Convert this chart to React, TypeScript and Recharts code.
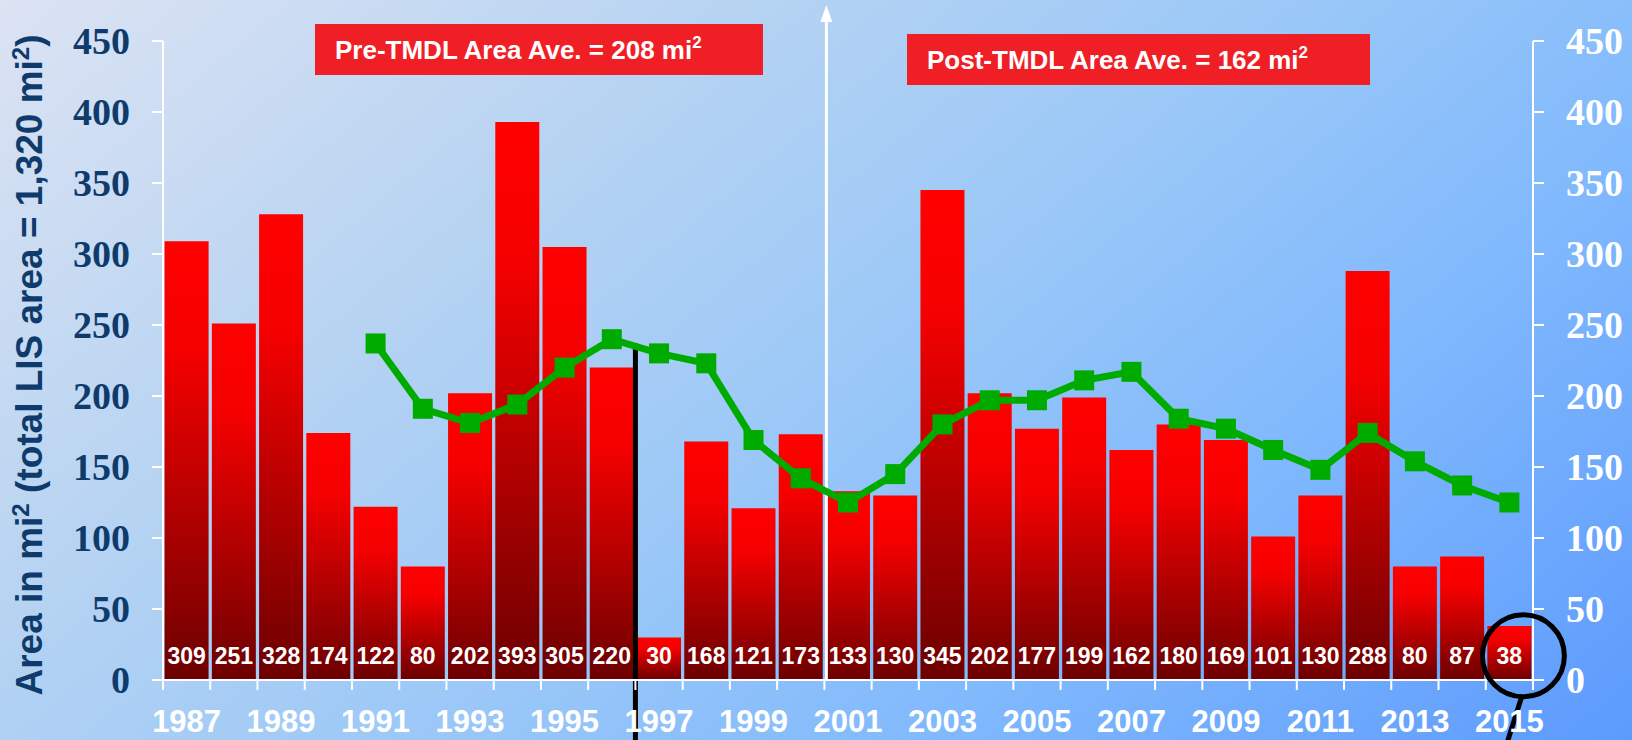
import React from 'react';
import {
  ComposedChart,
  Bar,
  Line,
  XAxis,
  YAxis,
  LabelList,
  ReferenceLine,
  ReferenceDot,
} from 'recharts';

// Hypoxic area of Long Island Sound by year (mi²)
const YEARS = [
  '1987', '1988', '1989', '1990', '1991', '1992', '1993', '1994', '1995', '1996',
  '1997', '1998', '1999', '2000', '2001', '2002', '2003', '2004', '2005', '2006',
  '2007', '2008', '2009', '2010', '2011', '2012', '2013', '2014', '2015',
];
const AREA = [
  309, 251, 328, 174, 122, 80, 202, 393, 305, 220,
  30, 168, 121, 173, 133, 130, 345, 202, 177, 199,
  162, 180, 169, 101, 130, 288, 80, 87, 38,
];
// Five-year running average (starts in 1991)
const RUNNING_AVG: (number | null)[] = [
  null, null, null, null, 237, 191, 181, 194, 220, 240,
  230, 223, 169, 142, 125, 145, 180, 197, 197, 211,
  217, 184, 177, 162, 148, 174, 154, 137, 125,
];
const Y_TICKS = [0, 50, 100, 150, 200, 250, 300, 350, 400, 450];
const Y_MAX = 450;
const PRE_AVG = 208;
const POST_AVG = 162;
const TMDL_START_YEAR = '1997';
const MARKER_YEAR = '2001';
const HIGHLIGHT_YEAR = '2015';

const data = YEARS.map((year, i) => ({ year, area: AREA[i], avg: RUNNING_AVG[i] }));

const W = 1632;
const H = 740;
const LEFT_W = 163;
const RIGHT_W = 99;
const TOP = 41;
const X_AXIS_H = 60;
const PLOT_W = W - LEFT_W - RIGHT_W;
const BAND = PLOT_W / YEARS.length;

const SANS = '"Liberation Sans", Arial, Helvetica, sans-serif';
const SERIF = '"Liberation Serif", "Times New Roman", Times, serif';
const NAVY = '#0e3b6c';
const GREEN = '#00ab00';
const BOX_RED = '#f01e25';

const YearTick = (props: any) => {
  const { x, y, payload, index } = props;
  const axisY = y - 10;
  const left = x - BAND / 2;
  const isLast = index === YEARS.length - 1;
  return (
    <g>
      <line x1={left} y1={axisY} x2={left} y2={axisY + 10} stroke="#fff" strokeWidth={2} />
      {isLast && (
        <line x1={x + BAND / 2} y1={axisY} x2={x + BAND / 2} y2={axisY + 10} stroke="#fff" strokeWidth={2} />
      )}
      {index % 2 === 0 && (
        <text
          x={x}
          y={axisY + 52}
          textAnchor="middle"
          fill="#fff"
          fontFamily={SANS}
          fontWeight="bold"
          fontSize={31}
        >
          {payload.value}
        </text>
      )}
    </g>
  );
};

const BarValue = (props: any) => {
  const { x, y, width, height, value } = props;
  return (
    <text
      x={Number(x) + Number(width) / 2}
      y={Number(y) + Number(height) - 16}
      textAnchor="middle"
      fill="#fff"
      fontFamily={SANS}
      fontWeight="bold"
      fontSize={23}
    >
      {value}
    </text>
  );
};

const SquareDot = (props: any) => {
  const { cx, cy, value, index } = props;
  if (value == null || cy == null) return <g key={`d-${index}`} />;
  return <rect key={`d-${index}`} x={cx - 10} y={cy - 10} width={20} height={20} fill={GREEN} />;
};

// Upward arrow marking the split between the two averaging periods
const ArrowShape = (p: any) => {
  const x = Number(p.x1) + 2;
  const yB = Math.max(Number(p.y1), Number(p.y2));
  return (
    <g>
      <line x1={x} y1={yB} x2={x} y2={20} stroke="#fff" strokeWidth={3} />
      <polygon points={`${x},5 ${x - 6},22 ${x + 6},22`} fill="#fff" />
    </g>
  );
};

// Heavy black divider at the start of the TMDL period
const DividerShape = (p: any) => {
  const x = Number(p.x1);
  const yB = Math.max(Number(p.y1), Number(p.y2));
  const yT = Math.min(Number(p.y1), Number(p.y2));
  const top = yB - (237 / Y_MAX) * (yB - yT);
  return <line x1={x} y1={top} x2={x} y2={H} stroke="#000" strokeWidth={5} />;
};

// Magnifier ring around the latest year
const LensShape = (p: any) => {
  const cx = Number(p.cx) + 14;
  const cy = Number(p.cy);
  return (
    <g>
      <circle cx={cx} cy={cy} r={41} fill="none" stroke="#000" strokeWidth={5} />
      <line x1={cx - 2} y1={cy + 42} x2={cx - 16} y2={cy + 86} stroke="#000" strokeWidth={5} />
    </g>
  );
};

const AvgBox = ({ x, y, w, label, value }: { x: number; y: number; w: number; label: string; value: number }) => (
  <g>
    <rect x={x} y={y} width={w} height={51} fill={BOX_RED} />
    <text x={x + 20} y={y + 35} fill="#fff" fontFamily={SANS} fontWeight="bold" fontSize={26}>
      {`${label} = ${value} mi`}
      <tspan fontSize={17} dy={-11}>2</tspan>
    </text>
  </g>
);

export default function App() {
  return (
    <div
      style={{
        position: 'absolute',
        left: 0,
        top: 0,
        width: W,
        height: H,
        overflow: 'hidden',
        background:
          'linear-gradient(140deg, #dce3f3 0%, #b6d3f2 30%, #9dc9f7 50%, #80b9fd 72%, #5c9afd 100%)',
      }}
    >
      <ComposedChart
        width={W}
        height={H}
        data={data}
        margin={{ top: TOP, right: 0, bottom: 0, left: 0 }}
        barCategoryGap={1.6}
      >
        <defs>
          <linearGradient id="barFill" x1="0" y1="0" x2="0" y2="1">
            <stop offset="0%" stopColor="#ff0000" />
            <stop offset="25%" stopColor="#f50000" />
            <stop offset="100%" stopColor="#6c0000" />
          </linearGradient>
        </defs>
        <XAxis
          dataKey="year"
          height={X_AXIS_H}
          interval={0}
          tickSize={10}
          tickMargin={0}
          tickLine={false}
          axisLine={{ stroke: '#fff', strokeWidth: 2 }}
          tick={<YearTick />}
        />
        <YAxis
          yAxisId="left"
          width={LEFT_W}
          domain={[0, Y_MAX]}
          ticks={Y_TICKS}
          interval={0}
          tickSize={11}
          tickMargin={22}
          axisLine={{ stroke: '#fff', strokeWidth: 2 }}
          tickLine={{ stroke: '#fff', strokeWidth: 2 }}
          tick={{ fill: NAVY, fontFamily: SERIF, fontWeight: 'bold', fontSize: 38 }}
        />
        <YAxis
          yAxisId="right"
          orientation="right"
          width={RIGHT_W}
          domain={[0, Y_MAX]}
          ticks={Y_TICKS}
          interval={0}
          tickSize={11}
          tickMargin={22}
          axisLine={{ stroke: '#fff', strokeWidth: 2 }}
          tickLine={{ stroke: '#fff', strokeWidth: 2 }}
          tick={{ fill: '#fff', fontFamily: SERIF, fontWeight: 'bold', fontSize: 38 }}
        />
        <Bar yAxisId="left" dataKey="area" fill="url(#barFill)" isAnimationActive={false}>
          <LabelList dataKey="area" content={<BarValue />} />
        </Bar>
        <ReferenceLine
          yAxisId="left"
          x={MARKER_YEAR}
          position="start"
          ifOverflow="visible"
          shape={ArrowShape}
        />
        <ReferenceLine
          yAxisId="left"
          x={TMDL_START_YEAR}
          position="start"
          ifOverflow="visible"
          shape={DividerShape}
        />
        <Line
          yAxisId="right"
          dataKey="avg"
          stroke={GREEN}
          strokeWidth={7}
          dot={SquareDot}
          activeDot={false}
          isAnimationActive={false}
        />
        <ReferenceDot
          yAxisId="left"
          x={HIGHLIGHT_YEAR}
          y={17}
          ifOverflow="visible"
          shape={LensShape}
        />
      </ComposedChart>
      <svg
        width={W}
        height={H}
        style={{ position: 'absolute', left: 0, top: 0, pointerEvents: 'none' }}
      >
        <text
          transform="translate(42 365) rotate(-90)"
          textAnchor="middle"
          fill={NAVY}
          fontFamily={SANS}
          fontWeight="bold"
          fontSize={37}
        >
          Area in mi<tspan fontSize={24} dy={-13}>2</tspan>
          <tspan dy={13}> (total LIS area = 1,320 mi</tspan>
          <tspan fontSize={24} dy={-13}>2</tspan>
          <tspan dy={13}>)</tspan>
        </text>
        <AvgBox x={315} y={24} w={448} label="Pre-TMDL Area Ave." value={PRE_AVG} />
        <AvgBox x={907} y={34} w={463} label="Post-TMDL Area Ave." value={POST_AVG} />
      </svg>
    </div>
  );
}
